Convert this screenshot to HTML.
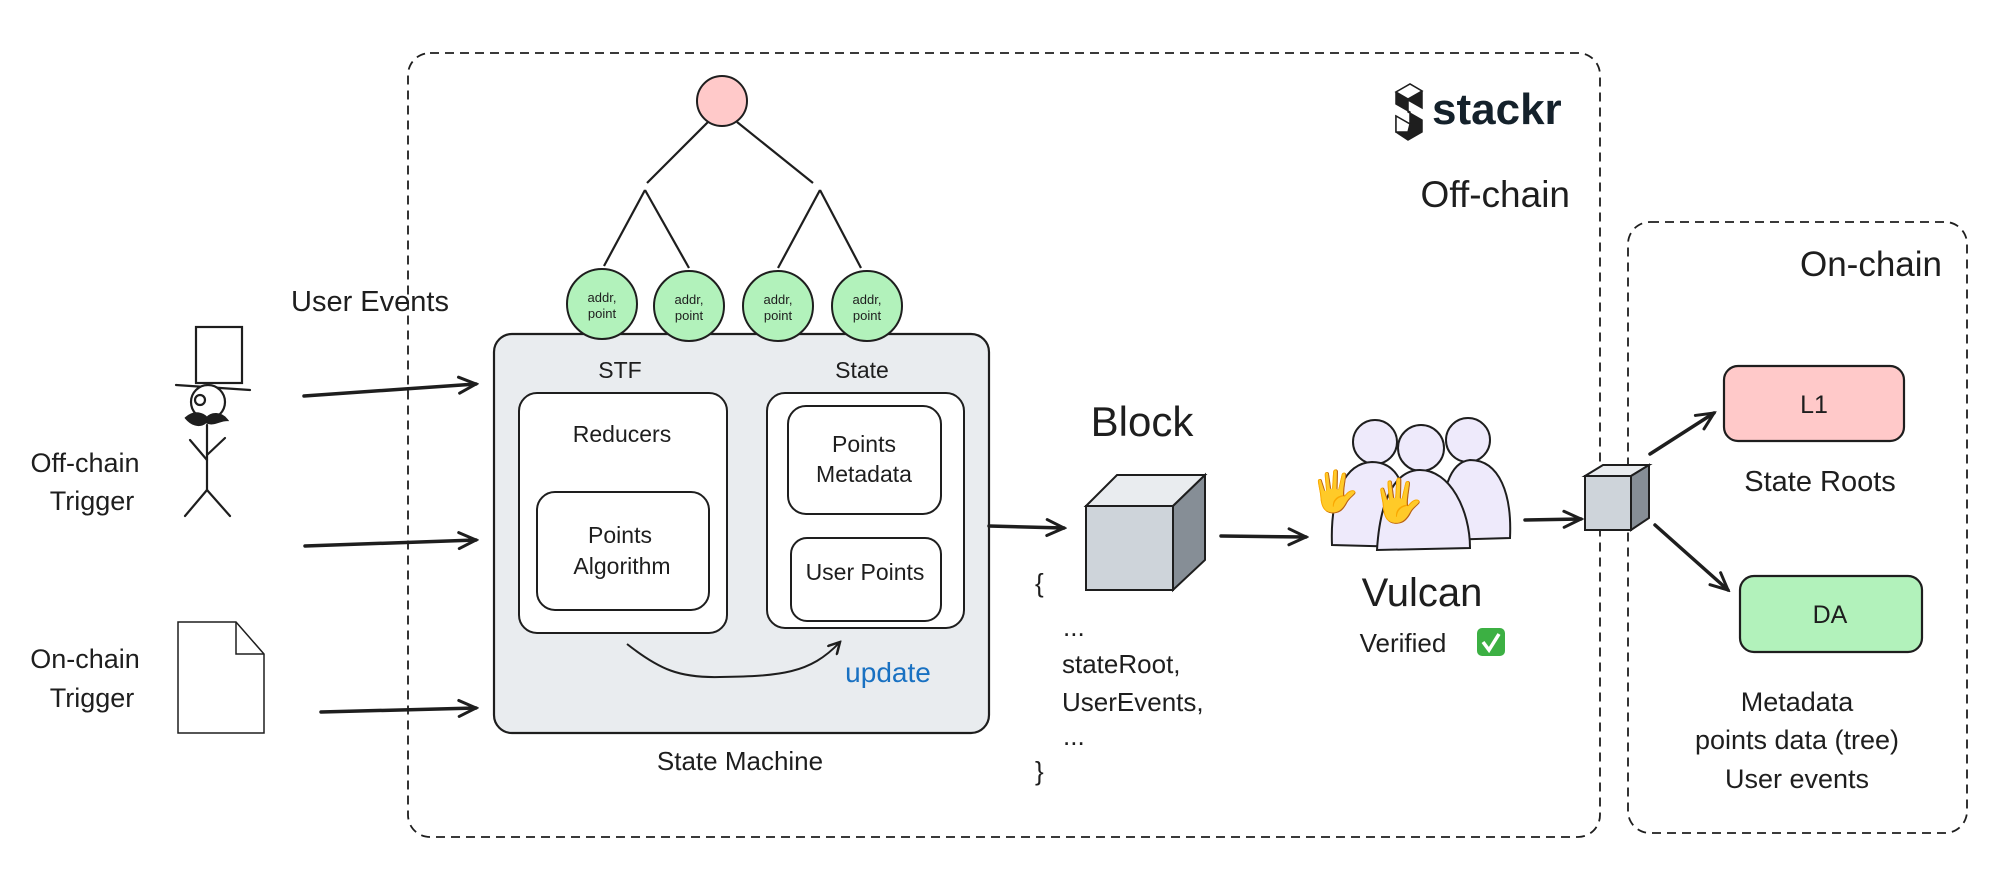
<!DOCTYPE html>
<html><head><meta charset="utf-8"><style>
html,body{margin:0;padding:0;background:#fff;}
svg{display:block;}
text{font-family:"Liberation Sans","DejaVu Sans",sans-serif;fill:#1e1e1e;}
</style></head><body>
<svg width="2000" height="881" viewBox="0 0 2000 881" xmlns="http://www.w3.org/2000/svg">
<defs>
<marker id="ah" markerWidth="14" markerHeight="14" refX="12" refY="7" orient="auto" markerUnits="userSpaceOnUse">
<path d="M1,1 L12,7 L1,13" fill="none" stroke="#1e1e1e" stroke-width="2.5" stroke-linecap="round"/>
</marker>
<marker id="ah2" markerWidth="22" markerHeight="22" refX="19" refY="11" orient="auto" markerUnits="userSpaceOnUse">
<path d="M2,3 L19,11 L2,19" fill="none" stroke="#1e1e1e" stroke-width="3" stroke-linecap="round"/>
</marker>
</defs>

<rect x="408" y="53" width="1192" height="784" rx="22" fill="none" stroke="#1e1e1e" stroke-width="1.8" stroke-dasharray="9,6"/>
<rect x="1628" y="222" width="339" height="611" rx="22" fill="none" stroke="#1e1e1e" stroke-width="1.8" stroke-dasharray="9,6"/>

<g stroke="#1e1e1e" stroke-width="2.2" fill="none">
<line x1="708" y1="122" x2="647" y2="183"/>
<line x1="737" y1="122" x2="813" y2="183"/>
<line x1="645" y1="190" x2="604" y2="266"/>
<line x1="645" y1="190" x2="689" y2="268"/>
<line x1="820" y1="190" x2="778" y2="268"/>
<line x1="820" y1="190" x2="861" y2="268"/>
</g>
<circle cx="722" cy="101" r="25" fill="#ffc9c9" stroke="#1e1e1e" stroke-width="2"/>

<rect x="494" y="334" width="495" height="399" rx="18" fill="#e9ecef" stroke="#1e1e1e" stroke-width="2.2"/>
<g fill="#b2f2bb" stroke="#1e1e1e" stroke-width="2">
<circle cx="602" cy="304" r="35"/>
<circle cx="689" cy="306" r="35"/>
<circle cx="778" cy="306" r="35"/>
<circle cx="867" cy="306" r="35"/>
</g>
<g font-size="13" text-anchor="middle">
<text x="602" y="302">addr,</text><text x="602" y="318">point</text>
<text x="689" y="304">addr,</text><text x="689" y="320">point</text>
<text x="778" y="304">addr,</text><text x="778" y="320">point</text>
<text x="867" y="304">addr,</text><text x="867" y="320">point</text>
</g>
<text x="620" y="378" font-size="23" text-anchor="middle">STF</text>
<text x="862" y="378" font-size="23" text-anchor="middle">State</text>

<rect x="519" y="393" width="208" height="240" rx="18" fill="#fff" stroke="#1e1e1e" stroke-width="2"/>
<text x="622" y="442" font-size="23" text-anchor="middle">Reducers</text>
<rect x="537" y="492" width="172" height="118" rx="18" fill="#fff" stroke="#1e1e1e" stroke-width="2"/>
<text x="620" y="543" font-size="23" text-anchor="middle">Points</text>
<text x="622" y="574" font-size="23" text-anchor="middle">Algorithm</text>

<rect x="767" y="393" width="197" height="235" rx="18" fill="#fff" stroke="#1e1e1e" stroke-width="2"/>
<rect x="788" y="406" width="153" height="108" rx="18" fill="#fff" stroke="#1e1e1e" stroke-width="2"/>
<text x="864" y="452" font-size="23" text-anchor="middle">Points</text>
<text x="864" y="482" font-size="23" text-anchor="middle">Metadata</text>
<rect x="791" y="538" width="150" height="83" rx="16" fill="#fff" stroke="#1e1e1e" stroke-width="2"/>
<text x="865" y="580" font-size="23" text-anchor="middle">User Points</text>

<path d="M627,644 C660,670 680,678 720,677 C780,676 810,674 840,642" fill="none" stroke="#1e1e1e" stroke-width="2" marker-end="url(#ah)"/>
<text x="888" y="682" font-size="28" style="fill:#1971c2" text-anchor="middle">update</text>
<text x="740" y="770" font-size="26" text-anchor="middle">State Machine</text>

<text x="291" y="311" font-size="29">User Events</text>
<text x="85" y="472" font-size="27" text-anchor="middle">Off-chain</text>
<text x="92" y="510" font-size="27" text-anchor="middle">Trigger</text>
<text x="85" y="668" font-size="27" text-anchor="middle">On-chain</text>
<text x="92" y="707" font-size="27" text-anchor="middle">Trigger</text>

<g stroke="#1e1e1e" stroke-width="2.2" fill="none" stroke-linecap="round">
<rect x="196" y="327" width="46" height="56" fill="#fff"/>
<line x1="176" y1="385" x2="250" y2="390"/>
<circle cx="208" cy="402" r="17" fill="#fff"/>
<circle cx="200" cy="400" r="5"/>
<path d="M186,418 C195,410 203,414 207,418 C211,413 221,412 227,420 C219,420 213,426 206,422 C199,428 191,424 186,418Z" fill="#1e1e1e"/>
<line x1="207" y1="425" x2="207" y2="490"/>
<line x1="190" y1="440" x2="207" y2="460"/>
<line x1="225" y1="438" x2="207" y2="455"/>
<line x1="207" y1="490" x2="185" y2="516"/>
<line x1="207" y1="490" x2="230" y2="516"/>
</g>
<path d="M178,622 L236,622 L264,654 L264,733 L178,733 Z" fill="#fff" stroke="#1e1e1e" stroke-width="1.5"/>
<path d="M236,622 L236,654 L264,654" fill="none" stroke="#1e1e1e" stroke-width="1.5"/>

<g stroke="#1e1e1e" stroke-width="3.5" fill="none" stroke-linecap="round">
<line x1="304" y1="396" x2="476" y2="384" marker-end="url(#ah2)"/>
<line x1="305" y1="546" x2="476" y2="540" marker-end="url(#ah2)"/>
<line x1="321" y1="712" x2="476" y2="708" marker-end="url(#ah2)"/>
<line x1="989" y1="526" x2="1064" y2="528" marker-end="url(#ah2)"/>
<line x1="1221" y1="536" x2="1306" y2="537" marker-end="url(#ah2)"/>
<line x1="1525" y1="520" x2="1581" y2="519" marker-end="url(#ah2)"/>
<line x1="1650" y1="454" x2="1714" y2="413" marker-end="url(#ah2)"/>
<line x1="1655" y1="525" x2="1728" y2="590" marker-end="url(#ah2)"/>
</g>

<text x="1142" y="436" font-size="42" text-anchor="middle">Block</text>
<g stroke="#1e1e1e" stroke-width="2">
<path d="M1086,506 L1117,475 L1205,475 L1173,506 Z" fill="#e9ecef"/>
<path d="M1173,506 L1205,475 L1205,560 L1173,590 Z" fill="#868e96"/>
<rect x="1086" y="506" width="87" height="84" fill="#ced4da"/>
</g>
<g font-size="26">
<text x="1035" y="592">{</text>
<text x="1063" y="636">...</text>
<text x="1062" y="673">stateRoot,</text>
<text x="1062" y="711">UserEvents,</text>
<text x="1063" y="745">...</text>
<text x="1035" y="780">}</text>
</g>

<g stroke="#1e1e1e" stroke-width="2" fill="#eeeafb">
<circle cx="1468" cy="440" r="22"/>
<path d="M1442,540 C1440,490 1450,462 1470,460 C1500,460 1512,495 1510,538 Z"/>
<circle cx="1375" cy="442" r="22"/>
<path d="M1332,545 C1330,495 1345,463 1372,462 C1400,462 1410,490 1408,547 Z"/>
<circle cx="1421" cy="448" r="23"/>
<path d="M1377,550 C1380,500 1395,470 1420,470 C1450,470 1470,510 1470,548 Z"/>
</g>
<text x="1310" y="505" font-size="40">🖐</text>
<text x="1372" y="515" font-size="42">🖐</text>
<text x="1422" y="606" font-size="40" text-anchor="middle">Vulcan</text>
<text x="1403" y="652" font-size="26" text-anchor="middle">Verified</text>
<rect x="1477" y="628" width="28" height="28" rx="5" fill="#3cb043"/>
<path d="M1483,642 L1489,650 L1499,634" fill="none" stroke="#fff" stroke-width="3.5"/>

<g stroke="#1e1e1e" stroke-width="2">
<path d="M1585,476 L1603,465 L1649,465 L1631,476 Z" fill="#e9ecef"/>
<path d="M1631,476 L1649,465 L1649,518 L1631,530 Z" fill="#868e96"/>
<rect x="1585" y="476" width="46" height="54" fill="#ced4da"/>
</g>

<g stroke="#1e1e1e" stroke-width="1.5">
<path d="M1396,92 L1410,84 L1422,91 L1422,108 L1408,100 L1408,112 L1422,120 L1422,132 L1408,140 L1396,132 L1396,116 L1410,124 L1410,112 L1396,104 Z" fill="#1e1e1e"/>
<path d="M1396,92 L1410,84 L1422,91 L1408,99 Z" fill="#fff"/>
<path d="M1396,116 L1410,124 L1408,132 L1396,132 Z" fill="#fff"/>
</g>
<text x="1432" y="124" font-size="44" font-weight="bold" style="fill:#14212b">stackr</text>
<text x="1570" y="207" font-size="37" text-anchor="end">Off-chain</text>
<text x="1942" y="276" font-size="35" text-anchor="end">On-chain</text>

<rect x="1724" y="366" width="180" height="75" rx="14" fill="#ffc9c9" stroke="#1e1e1e" stroke-width="2.2"/>
<text x="1814" y="413" font-size="25" text-anchor="middle">L1</text>
<text x="1820" y="491" font-size="29" text-anchor="middle">State Roots</text>
<rect x="1740" y="576" width="182" height="76" rx="14" fill="#b2f2bb" stroke="#1e1e1e" stroke-width="2.2"/>
<text x="1830" y="623" font-size="25" text-anchor="middle">DA</text>
<g font-size="27" text-anchor="middle">
<text x="1797" y="711">Metadata</text>
<text x="1797" y="749">points data (tree)</text>
<text x="1797" y="788">User events</text>
</g>
</svg>
</body></html>
